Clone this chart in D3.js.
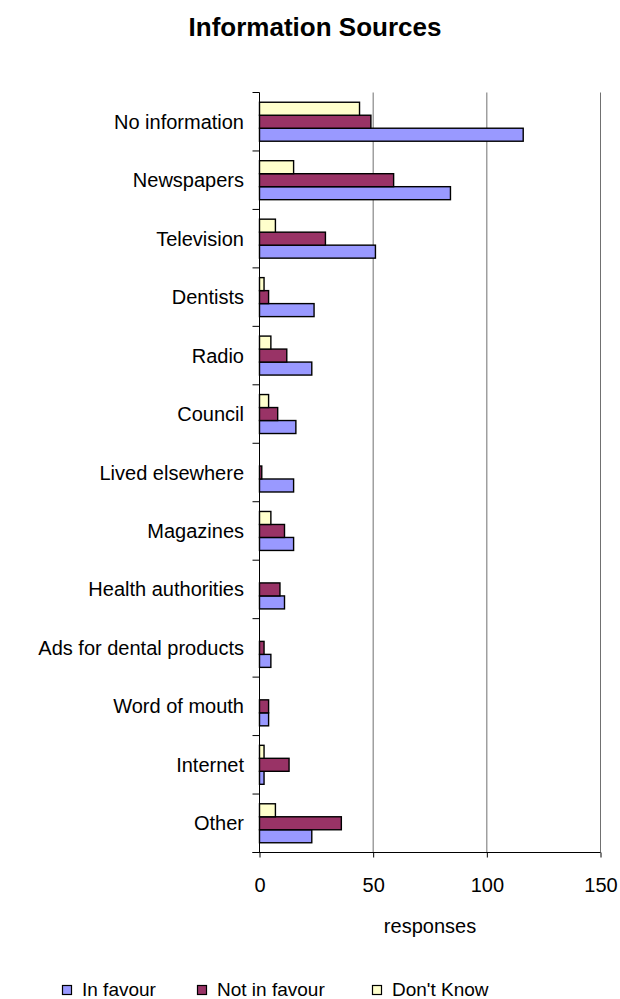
<!DOCTYPE html>
<html>
<head>
<meta charset="utf-8">
<script src="https://cdn.jsdelivr.net/npm/d3@7/dist/d3.min.js"></script>
<style>
  html, body { margin: 0; padding: 0; background: #fff; }
  svg { display: block; font-family: "Liberation Sans", Arial, sans-serif; }
</style>
</head>
<body>
<svg id="chart" width="620" height="999"></svg>
<script>
// Survey responses by information source
const categories = [
  "No information", "Newspapers", "Television", "Dentists", "Radio", "Council",
  "Lived elsewhere", "Magazines", "Health authorities", "Ads for dental products",
  "Word of mouth", "Internet", "Other"
];
const inFavour    = [116, 84, 51, 24, 23, 16, 15, 15, 11, 5, 4, 2, 23];
const notInFavour = [49, 59, 29, 4, 12, 8, 1, 11, 9, 2, 4, 13, 36];
const dontKnow    = [44, 15, 7, 2, 5, 4, 0, 5, 0, 0, 0, 2, 7];
const seriesNames = ["In favour", "Not in favour", "Don't Know"];
const seriesColors = ["#9999FF", "#993366", "#FFFFCC"];
const xTicks = [0, 50, 100, 150];
const chartTitle = "Information Sources";
const axisTitle = "responses";

const series = [inFavour, notInFavour, dontKnow];

const svg = d3.select("#chart");
const plotLeft = 259.5, plotRight = 600.5, plotTop = 92.5, plotBottom = 852.5;

const x = d3.scaleLinear().domain([0, 150]).range([plotLeft, plotRight]);
const y = d3.scaleBand().domain(categories).range([plotTop, plotBottom]).padding(0);
// within a category the last series sits on top
const ySeries = d3.scaleBand()
  .domain(seriesNames.slice().reverse())
  .range([0, y.bandwidth()])
  .paddingInner(0).paddingOuter(0.75);

// title
svg.append("text")
  .attr("x", 315).attr("y", 36)
  .attr("text-anchor", "middle")
  .attr("font-size", 26).attr("font-weight", "bold")
  .attr("fill", "#000")
  .text(chartTitle);

// vertical gridlines
svg.append("g").selectAll("line")
  .data(xTicks.filter(d => d > 0))
  .join("line")
  .attr("x1", d => x(d)).attr("x2", d => x(d))
  .attr("y1", plotTop).attr("y2", plotBottom)
  .attr("stroke", "#707070").attr("stroke-width", 1);

// bars
const rows = [];
categories.forEach((c, i) => {
  series.forEach((s, k) => {
    rows.push({ cat: c, name: seriesNames[k], value: s[i], color: seriesColors[k] });
  });
});
svg.append("g").selectAll("rect")
  .data(rows.filter(d => d.value > 0))
  .join("rect")
  .attr("x", x(0))
  .attr("y", d => y(d.cat) + ySeries(d.name))
  .attr("width", d => x(d.value) - x(0))
  .attr("height", ySeries.bandwidth())
  .attr("fill", d => d.color)
  .attr("stroke", "#000").attr("stroke-width", 1.4);

// category axis with ticks between categories
const yAxis = svg.append("g");
yAxis.append("line")
  .attr("x1", plotLeft).attr("x2", plotLeft).attr("y1", plotTop).attr("y2", plotBottom)
  .attr("stroke", "#000");
const bounds = categories.map(c => y(c)).concat([y.range()[1]]);
yAxis.selectAll("line.tick")
  .data(bounds)
  .join("line").attr("class", "tick")
  .attr("x1", plotLeft - 7).attr("x2", plotLeft)
  .attr("y1", d => d).attr("y2", d => d)
  .attr("stroke", "#000");
yAxis.selectAll("text")
  .data(categories)
  .join("text")
  .attr("x", 244)
  .attr("y", d => y(d) + y.bandwidth() / 2)
  .attr("dy", "0.35em")
  .attr("text-anchor", "end")
  .attr("font-size", 20)
  .attr("fill", "#000")
  .text(d => d);

// value axis
const xAxis = svg.append("g")
  .attr("transform", `translate(0,${plotBottom})`)
  .call(d3.axisBottom(x).tickValues(xTicks).tickSize(5).tickPadding(20).tickSizeOuter(0));
xAxis.select(".domain").attr("stroke", "#000").attr("d", `M${plotLeft - 7},0H${plotRight}`);
xAxis.selectAll(".tick line").attr("stroke", "#000");
xAxis.selectAll(".tick text")
  .attr("font-size", 20)
  .attr("font-family", "Liberation Sans, Arial, sans-serif")
  .attr("fill", "#000");

svg.append("text")
  .attr("x", (plotLeft + plotRight) / 2).attr("y", 933)
  .attr("text-anchor", "middle")
  .attr("font-size", 20).attr("fill", "#000")
  .text(axisTitle);

// legend along the bottom edge
const legendX = [62, 197, 372];
const legend = svg.append("g").selectAll("g")
  .data(seriesNames)
  .join("g")
  .attr("transform", (d, i) => `translate(${legendX[i]},985)`);
legend.append("rect")
  .attr("x", 0.5).attr("y", 0.5)
  .attr("width", 9).attr("height", 9)
  .attr("fill", (d, i) => seriesColors[i])
  .attr("stroke", "#000").attr("stroke-width", 1.2);
legend.append("text")
  .attr("x", 20).attr("y", 11)
  .attr("font-size", 19).attr("fill", "#000")
  .text(d => d);
</script>
</body>
</html>
